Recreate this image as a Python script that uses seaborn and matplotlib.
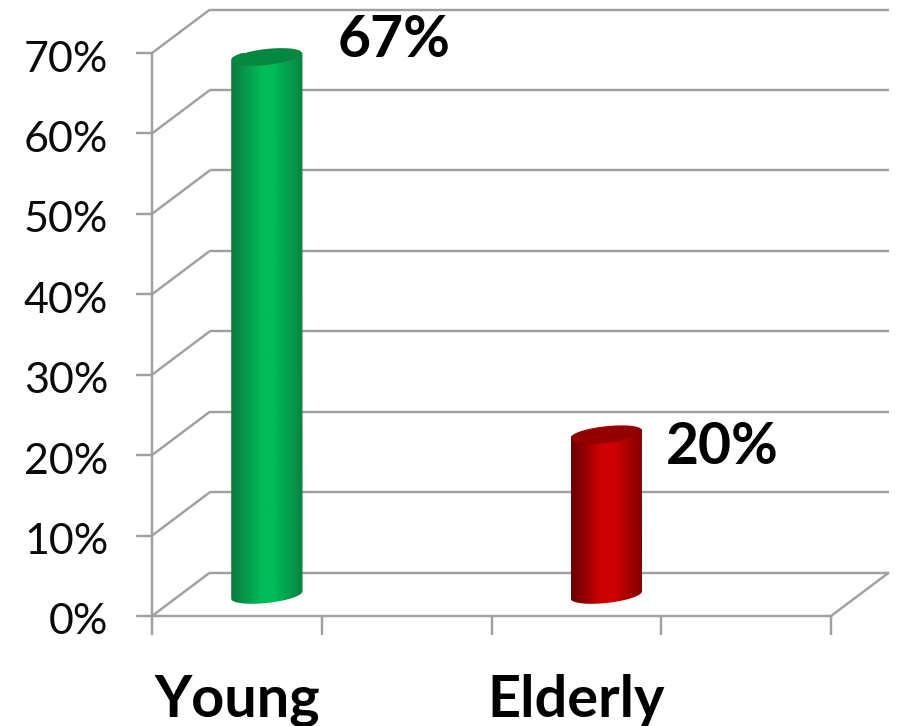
import numpy as np
import matplotlib
matplotlib.use("Agg")
import matplotlib.pyplot as plt
from matplotlib.colors import LinearSegmentedColormap
from matplotlib.patches import PathPatch
from matplotlib.path import Path
from matplotlib.transforms import ScaledTranslation
import seaborn as sns

# Chart values
groups = ["Young", "", "Elderly", " "]
shares = [67, 0, 20, 0]
value_labels = ["67%", "", "20%", ""]
y_ticks = [0, 10, 20, 30, 40, 50, 60, 70]

# Colours for the cylinders: left edge, bright centre, right edge, cap
shades = {
    "Young": ("#0a7a3e", "#00bb58", "#0a8244", "#06873f"),
    "Elderly": ("#640000", "#cf0000", "#820000", "#930000"),
}

W, H = 905, 726
LEFT, RIGHT, BOTTOM, TOP = 152, 831, 616, 53
GREY = "#a0a0a0"

sns.set_theme(style="white")
plt.rcParams["font.family"] = ["Lato", "DejaVu Sans"]

fig = plt.figure(figsize=(W / 100, H / 100), dpi=100)
ax = fig.add_axes([LEFT / W, 1 - BOTTOM / H, (RIGHT - LEFT) / W, (BOTTOM - TOP) / H])

sns.barplot(x=groups, y=shares, width=0.42, ax=ax, color="#888888", zorder=3)
ax.set_xlim(-0.5, 3.5)
ax.set_ylim(0, 70)

# Pixel sizes expressed in data units
px_x = 4 / (RIGHT - LEFT)
px_y = 70 / (BOTTOM - TOP)
wall_dx, wall_dy = 58 * px_x, 43.5 * px_y
bar_dx, bar_dy = 30 * px_x, 21 * px_y
tilt, squash = 3.7 * px_y, 8 * px_y

# Back wall and floor drawn with a fixed depth shift
line_kw = dict(color=GREY, lw=1.75, clip_on=False, zorder=1, solid_capstyle="butt")
for v in y_ticks:
    ax.plot([-0.5 + wall_dx, 3.5 + wall_dx], [v + wall_dy] * 2, **line_kw)
    ax.plot([-0.5, -0.5 + wall_dx], [v, v + wall_dy], **line_kw)
ax.plot([3.5, 3.5 + wall_dx], [0, wall_dy], **line_kw)

# Front axes
for side in ("top", "right"):
    ax.spines[side].set_visible(False)
for side in ("left", "bottom"):
    ax.spines[side].set_color(GREY)
    ax.spines[side].set_linewidth(1.75)
ax.set_yticks(y_ticks, [f"{v}%" for v in y_ticks])
ax.tick_params(axis="y", length=11.5, width=1.75, color=GREY, labelsize=31,
               pad=20, labelcolor="#0a0a0a", left=True)
nudge = ScaledTranslation(0, -3 / 100, fig.dpi_scale_trans)
for tick_label in ax.get_yticklabels():
    tick_label.set_transform(tick_label.get_transform() + nudge)
ax.set_xticks([0, 2], ["Young", "Elderly"], fontweight="bold")
ax.set_xticks([-0.5, 0.5, 1.5, 2.5, 3.5], minor=True)
ax.tick_params(axis="x", which="major", length=0, labelsize=41.5, pad=42, labelcolor="black")
ax.tick_params(axis="x", which="minor", length=14, width=1.75, color=GREY, bottom=True)

# Each bar becomes a shaded cylinder clipped to its own outline
t = np.linspace(0, 2 * np.pi, 181)
label_shift = [(127, 16), None, (116, -13), None]
for bar, name, value, text, shift in zip(ax.patches, groups, shares, value_labels, label_shift):
    bar.set_visible(False)
    if value == 0:
        continue
    half = bar.get_width() / 2
    cx = bar.get_x() + half + bar_dx
    left_edge, bright, right_edge, cap = shades[name]
    ell_x = cx + half * np.cos(t)
    ell_dy = tilt * np.cos(t) + squash * np.sin(t)

    lower, upper = t >= np.pi, t <= np.pi
    outline = Path(np.c_[np.r_[ell_x[lower], ell_x[upper]],
                         np.r_[bar_dy + ell_dy[lower], bar_dy + value + ell_dy[upper]]])

    cmap = LinearSegmentedColormap.from_list(
        name, [(0, left_edge), (0.42, bright), (0.6, bright), (1, right_edge)], N=256)
    ramp = np.linspace(0, 1, 256)[None, :]
    img = ax.imshow(ramp, cmap=cmap, aspect="auto", zorder=3, interpolation="bilinear",
                    extent=[cx - half, cx + half, 0, 80])
    img.set_clip_path(outline, ax.transData)

    lid = PathPatch(Path(np.c_[ell_x * 0.985 + cx * 0.015, bar_dy + value + ell_dy - 0.1]),
                    facecolor=cap, edgecolor="none", zorder=4, clip_on=False)
    ax.add_patch(lid)

    ax.annotate(text, (cx, value + bar_dy), xytext=shift, textcoords="offset pixels",
                ha="center", va="center", fontsize=41, fontweight="bold",
                color="black", annotation_clip=False, zorder=5)

ax.set_xlim(-0.5, 3.5)
ax.set_ylim(0, 70)
fig.savefig("out.png", dpi=100, facecolor="white")
